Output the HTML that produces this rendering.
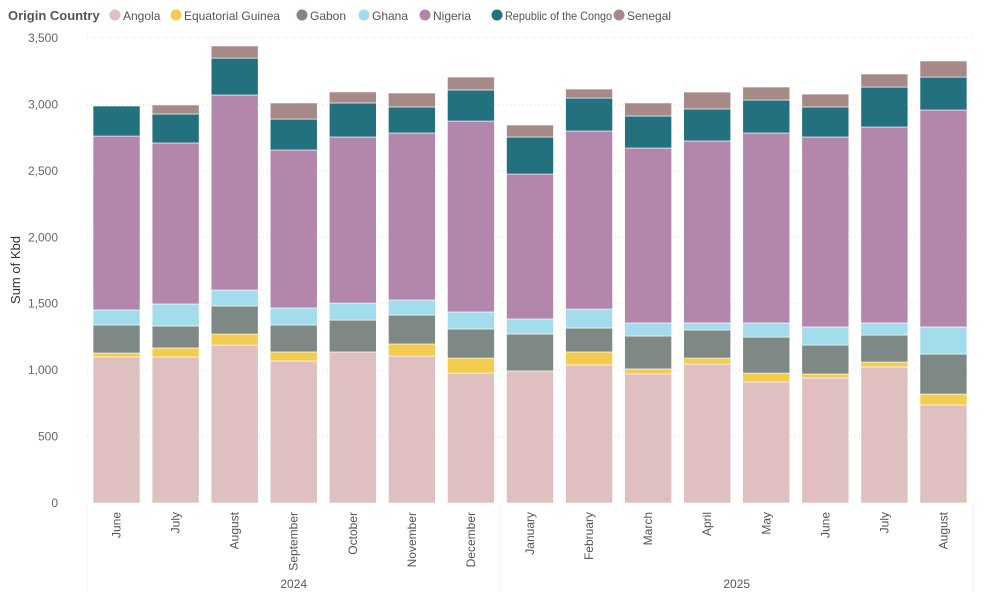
<!DOCTYPE html>
<html><head><meta charset="utf-8"><style>
body{margin:0;background:#fff;font-family:"Liberation Sans",sans-serif;}
svg text{font-family:"Liberation Sans",sans-serif;}
</style></head><body>
<svg id="chart" width="985" height="592"></svg>
<script>
const categories=["June","July","August","September","October","November","December","January","February","March","April","May","June","July","August"];
const seriesNames=["Angola","Equatorial Guinea","Gabon","Ghana","Nigeria","Republic of the Congo","Senegal"];
const angola=[1099,1099,1189,1069,1137,1106,978,994,1039,971,1046,911,941,1024,738];
const eqGuinea=[30,68,83,68,0,91,113,0,98,38,45,67,30,37,82];
const gabon=[211,165,211,203,240,218,219,278,180,248,211,271,218,203,301];
const ghana=[113,166,120,128,128,113,128,113,143,98,53,106,136,91,204];
const nigeria=[1309,1212,1468,1189,1250,1257,1437,1091,1340,1317,1370,1430,1430,1475,1633];
const congo=[226,218,278,233,256,196,234,279,248,241,241,248,226,301,248];
const senegal=[0,68,91,121,83,105,97,90,68,98,127,98,97,98,121];
const yTicks=[0,500,1000,1500,2000,2500,3000,3500];
const yTickLabels=["0","500","1,000","1,500","2,000","2,500","3,000","3,500"];
const years=["2024","2025"];
const yearSpans=[[0,6],[7,14]];
const colors=["#DFBFBF","#F2CD52","#7E8985","#A3DCEC","#B386AB","#23707F","#A78A88"];
const series=[angola,eqGuinea,gabon,ghana,nigeria,congo,senegal];

const NS="http://www.w3.org/2000/svg";
const svg=document.getElementById('chart');
function el(t,a,p){const e=document.createElementNS(NS,t);for(const k in a)e.setAttribute(k,a[k]);(p||svg).appendChild(e);return e;}
const x0=87,x1=973,y0=503,yMax=3500,yTop=38;
const step=(x1-x0)/categories.length;
const bw=47;
function y(v){return y0-(v/yMax)*(y0-yTop);}
function xc(i){return x0+step*(i+0.5);}

// legend
let t=el('text',{x:8,y:20,'font-size':13,'font-weight':'bold',fill:'#555'});t.textContent='Origin Country';

const lx=[115,176,302,364,425,497,619];
seriesNames.forEach((n,i)=>{
 const g=el('g',{});
 
 
 el('circle',{cx:lx[i],cy:15,r:5.5,fill:colors[i]},g);
 const tt=el('text',{x:lx[i]+8,y:20,'font-size':12,fill:'#555'},g);tt.textContent=n;
 if(i===5){tt.setAttribute('textLength','107');tt.setAttribute('lengthAdjust','spacingAndGlyphs');}
});

// grid + y labels
yTicks.forEach((v,i)=>{
 if(v>0){const l=el('line',{x1:x0,x2:x1,y1:y(v),y2:y(v),stroke:'#ddd','stroke-dasharray':'1,3'});
 }
 const tx=el('text',{x:58,y:y(v)+4,'font-size':12,fill:'#666','text-anchor':'end'});tx.textContent=yTickLabels[i];
 
});
t=el('text',{x:20,y:270,'font-size':13,fill:'#333','text-anchor':'middle',transform:'rotate(-90 20 270)'});t.textContent='Sum of Kbd';


// bars
categories.forEach((c,i)=>{
 let cum=0;
 series.forEach((s,k)=>{
  const v=s[i];if(v<=0){return;}
  const r=el('rect',{x:xc(i)-bw/2,y:y(cum+v),width:bw,height:y(cum)-y(cum+v),fill:colors[k],stroke:'#fff','stroke-width':0.6});
  
  
  cum+=v;
 });
 const tx=el('text',{x:0,y:0,'font-size':12,fill:'#555','text-anchor':'end',transform:`translate(${xc(i)+4},512) rotate(-90)`});
 tx.textContent=c;
 
});

// year dividers
[x0,xc(6)+step/2,x1].forEach(xx=>{const l=el('line',{x1:xx,x2:xx,y1:505,y2:592,stroke:'#ddd','stroke-dasharray':'1,3'});
 });
years.forEach((yr,i)=>{
 const cx=(xc(yearSpans[i][0])+xc(yearSpans[i][1]))/2;
 const tx=el('text',{x:cx,y:588,'font-size':12,fill:'#555','text-anchor':'middle'});tx.textContent=yr;
 
});
</script>
</body></html>
